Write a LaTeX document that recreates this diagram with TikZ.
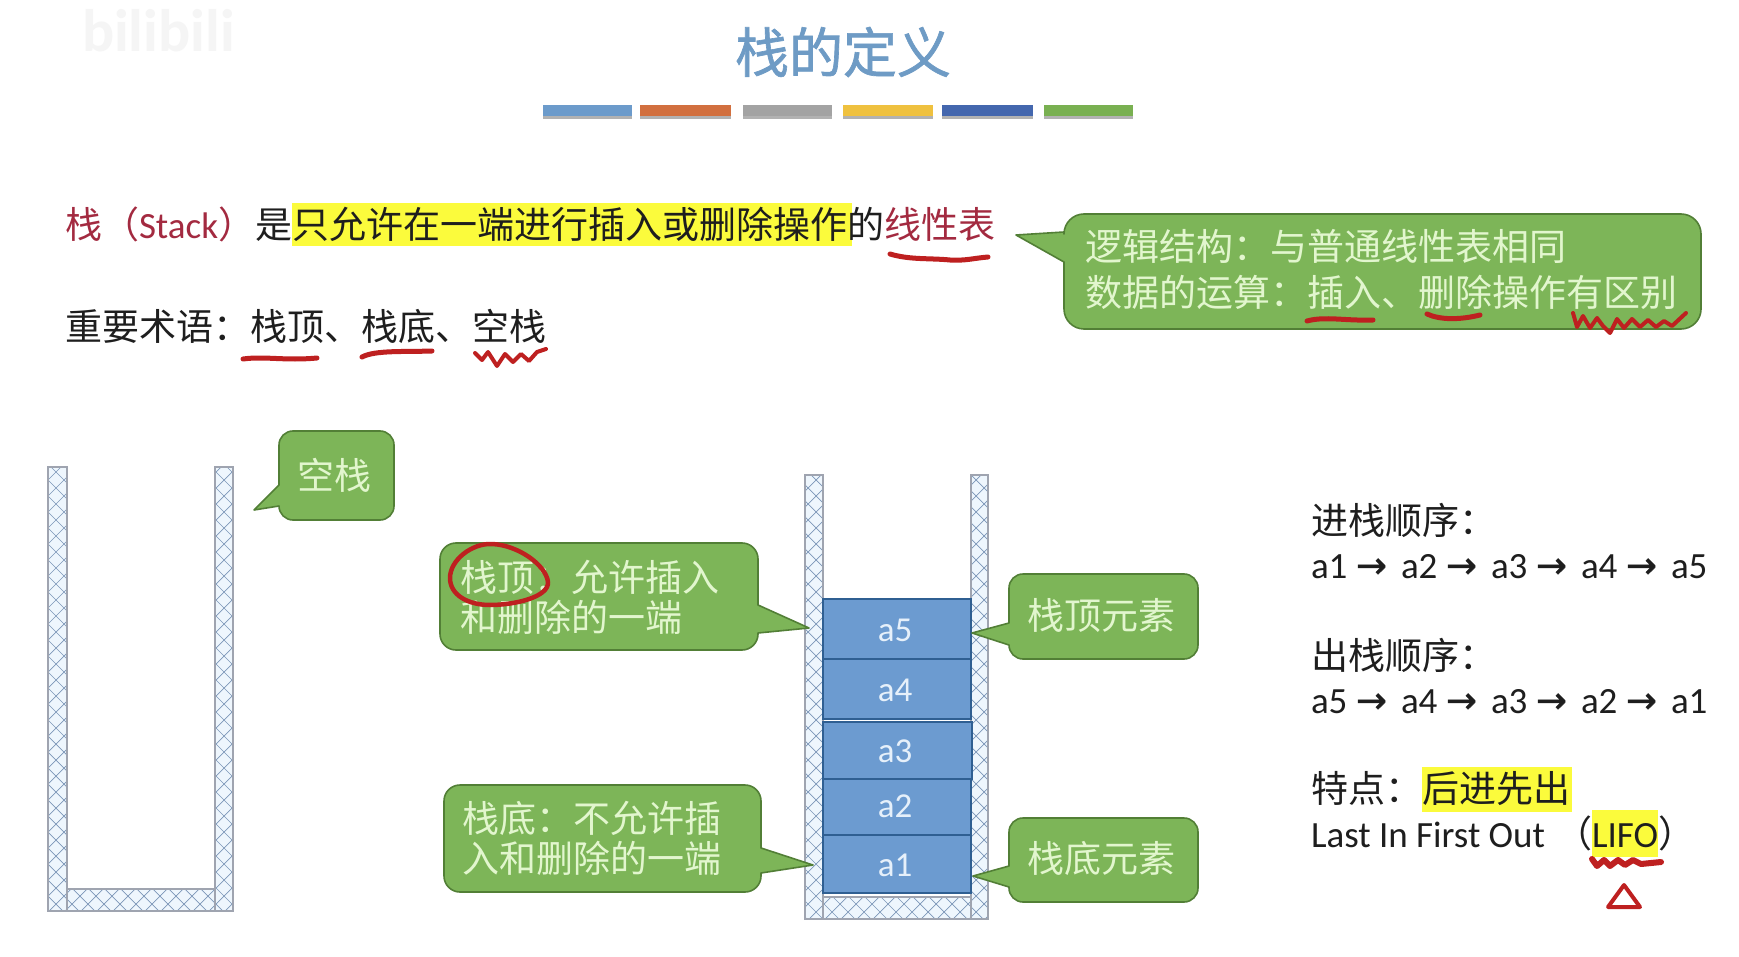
\documentclass[tikz,border=0pt]{standalone}
\usepackage{fontspec}
\setmainfont{Carlito}
\newfontfamily\cjk{Noto Sans CJK SC}
\newfontfamily\cjktitle[FakeBold=1.2]{Noto Sans CJK SC}
\newfontfamily\arrowf[FakeBold=1.2]{DejaVu Sans}
\usetikzlibrary{shadows}
\definecolor{cfill}{HTML}{7DB558}
\definecolor{cline}{HTML}{527F36}
\definecolor{ctext}{HTML}{E2F6CE}
\definecolor{bluefill}{HTML}{6C9BD0}
\definecolor{blueline}{HTML}{2F5F92}
\definecolor{bluetext}{HTML}{E6F0FA}
\definecolor{hl}{HTML}{FBFB3C}
\definecolor{dred}{HTML}{A32A40}
\definecolor{pen}{HTML}{BE2020}
\definecolor{ink}{HTML}{1E1E1E}
\definecolor{hatch}{HTML}{7C96B8}
\definecolor{wallline}{HTML}{9FA4B0}
\definecolor{wallfill}{HTML}{EEF6FD}
\definecolor{titleblue}{HTML}{6E9BC5}
\newcommand{\cn}[1]{{\cjk #1}}
\newcommand{\arw}{\makebox[45pt][l]{\arrowf →}}
\newcommand{\seq}[5]{\makebox[45pt][l]{#1}\arw\makebox[45pt][l]{#2}\arw\makebox[45pt][l]{#3}\arw\makebox[45pt][l]{#4}\arw#5}
% hatched wall: x1 y1 x2 y2
\newcommand{\wallbox}[4]{%
  \fill[wallfill] (#1,#2) rectangle (#3,#4);
  \begin{scope}
    \clip (#1,#2) rectangle (#3,#4);
    \pgfmathtruncatemacro{\nstart}{(#1-#4-40)/16}
    \pgfmathtruncatemacro{\nend}{(#3-#2+40)/16}
    \foreach \k in {\nstart,...,\nend}{
      \draw[hatch,line width=.7pt] (\k*16+#2,#2) -- ++(#4-#2,#4-#2);
    }
    \pgfmathtruncatemacro{\mstart}{(#1+#2-40)/16}
    \pgfmathtruncatemacro{\mend}{(#3+#4+40)/16}
    \foreach \k in {\mstart,...,\mend}{
      \draw[hatch,line width=.7pt] (\k*16-#2,#2) -- ++(#2-#4,#4-#2);
    }
  \end{scope}
  \draw[wallline,line width=2pt] (#1,#2) rectangle (#3,#4);
}
\tikzset{
  x=1pt,y=-1pt,
  every node/.style={inner sep=0pt,outer sep=0pt,font=\fontsize{37}{37}\selectfont,text=ink},
  callout/.style={fill=cfill,draw=cline,line width=1.6pt,line join=round},
  ctxt/.style={text=ctext,anchor=base west},
  ctxtc/.style={text=ctext,anchor=base},
  plain/.style={anchor=base west},
  item/.style={fill=bluefill,draw=blueline,line width=1.2pt},
  itemtxt/.style={text=bluetext,font=\fontsize{35}{35}\selectfont,anchor=base},
  bar/.style={drop shadow={shadow xshift=0pt,shadow yshift=-3pt,fill=black!60,opacity=.5}},
  redpen/.style={draw=pen,line width=5pt,line cap=round,line join=round},
  redwave/.style={draw=pen,line width=4pt,line cap=round,line join=round},
}
\begin{document}
\begin{tikzpicture}
\useasboundingbox (0,0) rectangle (1739,957);
\fill[white] (0,0) rectangle (1739,957);

% watermark
\node[anchor=base west,text=black!4,font=\fontsize{60}{60}\selectfont\bfseries] (wm) at (82,52) {bilibili};

% title
\node[text=titleblue,font=\cjktitle\fontsize{54}{54}\selectfont] (title) at (843,52) {栈的定义};
\foreach \a/\b/\c in {543/632/6C9BCB,640/731/D2703F,743/832/A3A3A3,843/933/EFC13F,942/1033/4467AE,1044/1133/79B051}{
  \definecolor{barc}{HTML}{\c}
  \fill[bar,barc] (\a,105) rectangle (\b,116);
}

% highlights
\fill[hl] (292,203) rectangle (852,246);
\fill[hl] (1422,767) rectangle (1572,812);
\fill[hl] (1592,810) rectangle (1658,857);

% first lines
\node[plain] (l1) at (65,239) {\cn{\textcolor{dred}{栈（}}\textcolor{dred}{Stack}\cn{\textcolor{dred}{）}是只允许在一端进行插入或删除操作的\textcolor{dred}{线性表}}};
\node[plain] (l2) at (65,341) {\cn{重要术语：栈顶、栈底、空栈}};

% logic callout
\draw[callout] (1084,214) -- (1681,214) arc[start angle=-90,end angle=0,radius=20] -- (1701,309) arc[start angle=0,end angle=90,radius=20] -- (1084,329) arc[start angle=90,end angle=180,radius=20] -- (1064,262) -- (1016,235) -- (1064,232) -- (1064,234) arc[start angle=180,end angle=270,radius=20] -- cycle;
\node[ctxt] (c1a) at (1085,261) {\cn{逻辑结构：与普通线性表相同}};
\node[ctxt] (c1b) at (1085,307) {\cn{数据的运算：插入、删除操作有区别}};

% empty stack
\wallbox{48}{467}{67}{911}
\wallbox{215}{467}{233}{911}
\wallbox{67}{889}{215}{911}

% kong zhan callout
\draw[callout] (293,431) -- (380,431) arc[start angle=-90,end angle=0,radius=14] -- (394,506) arc[start angle=0,end angle=90,radius=14] -- (293,520) arc[start angle=90,end angle=180,radius=14] -- (279,506) -- (254,510) -- (279,485) -- (279,445) arc[start angle=180,end angle=270,radius=14] -- cycle;
\node[ctxtc] (c2) at (334,489) {\cn{空栈}};

% stack
\wallbox{805}{475}{823}{919}
\wallbox{971}{475}{988}{919}
\wallbox{823}{897}{971}{919}
\draw[item] (823,599) rectangle (971,659);
\draw[item] (823,659) rectangle (971,719);
\draw[item] (823,722) rectangle (972,779);
\draw[item] (823,779) rectangle (971,835);
\draw[item] (823,835) rectangle (971,893);
\node[itemtxt] (a5) at (895,641) {a5};
\node[itemtxt] (a4) at (895,701) {a4};
\node[itemtxt] (a3) at (895,762) {a3};
\node[itemtxt] (a2) at (895,817) {a2};
\node[itemtxt] (a1) at (895,876) {a1};

% top callout
\draw[callout] (456,543) -- (742,543) arc[start angle=-90,end angle=0,radius=16] -- (758,605) -- (809,628) -- (758,633) -- (758,634) arc[start angle=0,end angle=90,radius=16] -- (456,650) arc[start angle=90,end angle=180,radius=16] -- (440,559) arc[start angle=180,end angle=270,radius=16] -- cycle;
\node[ctxt] (c3a) at (460,591) {\cn{栈顶：允许插入}};
\node[ctxt] (c3b) at (460,631) {\cn{和删除的一端}};

% bottom callout
\draw[callout] (460,785) -- (745,785) arc[start angle=-90,end angle=0,radius=16] -- (761,848) -- (813,865) -- (761,873) -- (761,876) arc[start angle=0,end angle=90,radius=16] -- (460,892) arc[start angle=90,end angle=180,radius=16] -- (444,801) arc[start angle=180,end angle=270,radius=16] -- cycle;
\node[ctxt] (c4a) at (462,832) {\cn{栈底：不允许插}};
\node[ctxt] (c4b) at (462,872) {\cn{入和删除的一端}};

% right callouts
\draw[callout] (1023,574) -- (1184,574) arc[start angle=-90,end angle=0,radius=14] -- (1198,645) arc[start angle=0,end angle=90,radius=14] -- (1023,659) arc[start angle=90,end angle=180,radius=14] -- (1009,645) -- (972,633) -- (1009,623) -- (1009,588) arc[start angle=180,end angle=270,radius=14] -- cycle;
\node[ctxtc] (c5) at (1101,629) {\cn{栈顶元素}};
\draw[callout] (1023,818) -- (1184,818) arc[start angle=-90,end angle=0,radius=14] -- (1198,888) arc[start angle=0,end angle=90,radius=14] -- (1023,902) arc[start angle=90,end angle=180,radius=14] -- (1009,887) -- (973,876) -- (1009,866) -- (1009,832) arc[start angle=180,end angle=270,radius=14] -- cycle;
\node[ctxtc] (c6) at (1101,872) {\cn{栈底元素}};

% right text
\node[plain] (r1) at (1311,534) {\cn{进栈顺序：}};
\node[plain] (r2) at (1311,578) {\seq{a1}{a2}{a3}{a4}{a5}};
\node[plain] (r3) at (1311,669) {\cn{出栈顺序：}};
\node[plain] (r4) at (1311,713) {\seq{a5}{a4}{a3}{a2}{a1}};
\node[plain] (r5) at (1311,802) {\cn{特点：后进先出}};
\node[plain] (r6) at (1311,847) {Last In First Out};
\node[plain] (r7) at (1555,847) {\cn{（}LIFO\cn{）}};

% red pen marks
\draw[redpen] (890,254) .. controls (910,260) and (930,258) .. (950,260) .. controls (965,261) and (975,258) .. (988,257);
\draw[redpen] (243,359) .. controls (265,356) and (285,361) .. (317,358);
\draw[redpen] (362,357) .. controls (375,350) and (405,352) .. (432,351);
\draw[redwave] (475,353) -- (482,360) -- (488,352) -- (497,366) -- (505,354) -- (513,362) -- (521,354) -- (529,361) -- (537,352) -- (546,349);
\draw[redpen] (1307,321) .. controls (1325,316) and (1345,321) .. (1373,320);
\draw[redpen] (1427,314) .. controls (1440,320) and (1460,320) .. (1480,315);
\draw[redwave] (1573,313) -- (1577,327) -- (1583,316) -- (1590,328) -- (1597,318) -- (1603,326) -- (1610,333) -- (1617,319) -- (1624,328) -- (1632,319) -- (1640,327) -- (1648,320) -- (1656,327) -- (1664,321) -- (1672,326) -- (1686,313);
\draw[redpen,line width=4.5pt] (450,578) .. controls (450,560) and (472,543) .. (492,544) .. controls (518,545) and (546,565) .. (548,582) .. controls (549,597) and (515,605) .. (490,605) .. controls (468,605) and (450,595) .. (450,578) -- cycle;
\draw[redwave,line width=6pt] (1592,859) -- (1597,866) -- (1604,860) -- (1610,866) -- (1618,860) -- (1625,865) -- (1633,860) -- (1641,864) -- (1661,862);
\draw[redpen,line width=4pt] (1624,885) -- (1640,907) -- (1608,907) -- cycle;
\end{tikzpicture}
\end{document}
